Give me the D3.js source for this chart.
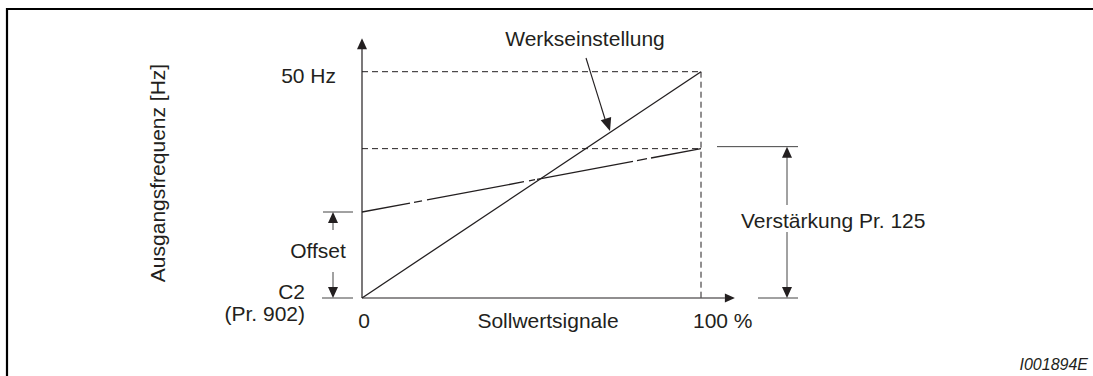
<!DOCTYPE html>
<html>
<head>
<meta charset="utf-8">
<script src="https://cdn.jsdelivr.net/npm/d3@7"></script>
<style>
  html, body { margin: 0; padding: 0; background: #fff; }
  svg { display: block; }
  text { font-family: "Liberation Sans", Arial, Helvetica, sans-serif; fill: #231f20; }
</style>
</head>
<body>
<svg id="chart" width="1093" height="376"></svg>
<script>
// Signal axis (percent of set-point signal) and output frequency (Hz)
const signalRange = [0, 100];
const signalAxisEnd = 110;
const freqAxisEnd = 57.4;
const ratedFreq = 50;

// Characteristic curves: output frequency at 0 % and 100 % signal
const factoryCurve = [0, 50];      // Werkseinstellung
const adjustedCurve = [19, 33];    // Offset C2 (Pr. 902) / Verstärkung Pr. 125

// Labels
const xTickLabels = ["0", "100 %"];
const yTickLabels = ["50 Hz"];
const xTitle = "Sollwertsignale";
const yTitle = "Ausgangsfrequenz [Hz]";
const curveLabel = "Werkseinstellung";
const offsetLabel = "Offset";
const offsetParam = ["C2", "(Pr. 902)"];
const gainLabel = "Verstärkung Pr. 125";
const figureId = "I001894E";

const svg = d3.select("#chart");
const ink = "#231f20";

const x = d3.scaleLinear().domain([0, 100]).range([362, 701]);
const y = d3.scaleLinear().domain([0, 50]).range([298, 71.7]);

// frame
svg.append("path")
  .attr("d", "M7,380 L7,9 L1100,9")
  .attr("fill", "none").attr("stroke", "#000").attr("stroke-width", 2.2);

function arrowHead(tipX, tipY, dirX, dirY, len = 11, half = 5) {
  const px = -dirY, py = dirX;
  const bx = tipX - dirX * len, by = tipY - dirY * len;
  svg.append("path")
    .attr("d", `M${tipX},${tipY} L${bx + px * half},${by + py * half} L${bx - px * half},${by - py * half} Z`)
    .attr("fill", ink);
}
function line(x1, y1, x2, y2, opts = {}) {
  return svg.append("line")
    .attr("x1", x1).attr("y1", y1).attr("x2", x2).attr("y2", y2)
    .attr("stroke", opts.color || ink)
    .attr("stroke-width", opts.width || 1.2)
    .attr("stroke-dasharray", opts.dash || null);
}

// reference dashed guides
line(x(0), y(ratedFreq), x(100), y(ratedFreq), { dash: "6 4", width: 1 });
line(x(0), y(adjustedCurve[1]), x(100), y(adjustedCurve[1]), { dash: "6 4", width: 1 });
line(x(100), y(ratedFreq), x(100), y(0), { dash: "6 4", width: 1 });

// axes
line(x(0), y(0), x(0), y(freqAxisEnd) + 10, { width: 1.2 });
arrowHead(x(0), y(freqAxisEnd), 0, -1);
line(x(0), y(0), x(signalAxisEnd) - 10, y(0), { width: 1.2 });
arrowHead(x(signalAxisEnd), y(0), 1, 0, 10, 4.5);

// factory curve
line(x(signalRange[0]), y(factoryCurve[0]), x(signalRange[1]), y(factoryCurve[1]), { width: 1.3 });

// adjusted curve (broken stroke)
{
  const x1 = x(signalRange[0]), y1 = y(adjustedCurve[0]);
  const x2 = x(signalRange[1]), y2 = y(adjustedCurve[1]);
  const k = Math.hypot(x2 - x1, y2 - y1) / (x2 - x1);
  const pattern = [48, 4, 8, 5, 97, 5, 6, 2, 96, 4, 10, 4, 60].map(d => d * k).join(" ");
  line(x1, y1, x2, y2, { width: 1.3, dash: pattern });
}

// Werkseinstellung pointer
line(586, 58, 605, 119, { width: 1.1 });
{
  const dx = 610 - 586, dy = 131 - 58, L = Math.hypot(dx, dy);
  arrowHead(610, 131, dx / L, dy / L, 13, 5.5);
}
svg.append("text").attr("x", 585).attr("y", 46).attr("text-anchor", "middle")
  .attr("font-size", 21).text(curveLabel);

// offset bracket
const ox = 333;
line(323, y(adjustedCurve[0]), 353, y(adjustedCurve[0]), { width: 1, color: "#444" });
line(322, y(0), 353, y(0), { width: 1, color: "#444" });
line(ox, y(adjustedCurve[0]) + 10, ox, 230, { width: 1, color: "#444" });
arrowHead(ox, y(adjustedCurve[0]), 0, -1, 11, 5);
line(ox, 272, ox, y(0) - 10, { width: 1, color: "#444" });
arrowHead(ox, y(0), 0, 1, 11, 5);
svg.append("text").attr("x", 318).attr("y", 258).attr("text-anchor", "middle")
  .attr("font-size", 21).text(offsetLabel);

// gain bracket
const gx = 787, gTop = y(adjustedCurve[1]) - 2;
line(717, gTop, 798, gTop, { width: 1, color: "#444" });
line(758, y(0), 798, y(0), { width: 1, color: "#444" });
line(gx, gTop + 10, gx, 205, { width: 1, color: "#444" });
arrowHead(gx, gTop, 0, -1, 11, 5);
line(gx, 232, gx, y(0) - 10, { width: 1, color: "#444" });
arrowHead(gx, y(0), 0, 1, 11, 5);
svg.append("text").attr("x", 741).attr("y", 228).attr("font-size", 21).text(gainLabel);

// tick labels
svg.append("text").attr("x", 336).attr("y", y(ratedFreq) + 11.5).attr("text-anchor", "end")
  .attr("font-size", 21).text(yTickLabels[0]);
svg.append("text").attr("x", 305).attr("y", 299).attr("text-anchor", "end")
  .attr("font-size", 21).text(offsetParam[0]);
svg.append("text").attr("x", 305).attr("y", 321).attr("text-anchor", "end")
  .attr("font-size", 21).text(offsetParam[1]);
svg.append("text").attr("x", x(0) + 2).attr("y", 328).attr("text-anchor", "middle")
  .attr("font-size", 21).text(xTickLabels[0]);
svg.append("text").attr("x", x(100) - 8).attr("y", 328).attr("text-anchor", "start")
  .attr("font-size", 21).text(xTickLabels[1]);

// axis titles
svg.append("text").attr("x", 548).attr("y", 328).attr("text-anchor", "middle")
  .attr("font-size", 21).text(xTitle);
svg.append("text").attr("transform", "translate(165,173) rotate(-90)")
  .attr("text-anchor", "middle").attr("font-size", 21).text(yTitle);

// figure id
svg.append("text").attr("x", 1088).attr("y", 370).attr("text-anchor", "end")
  .attr("font-size", 16).attr("font-style", "italic").text(figureId);
</script>
</body>
</html>
